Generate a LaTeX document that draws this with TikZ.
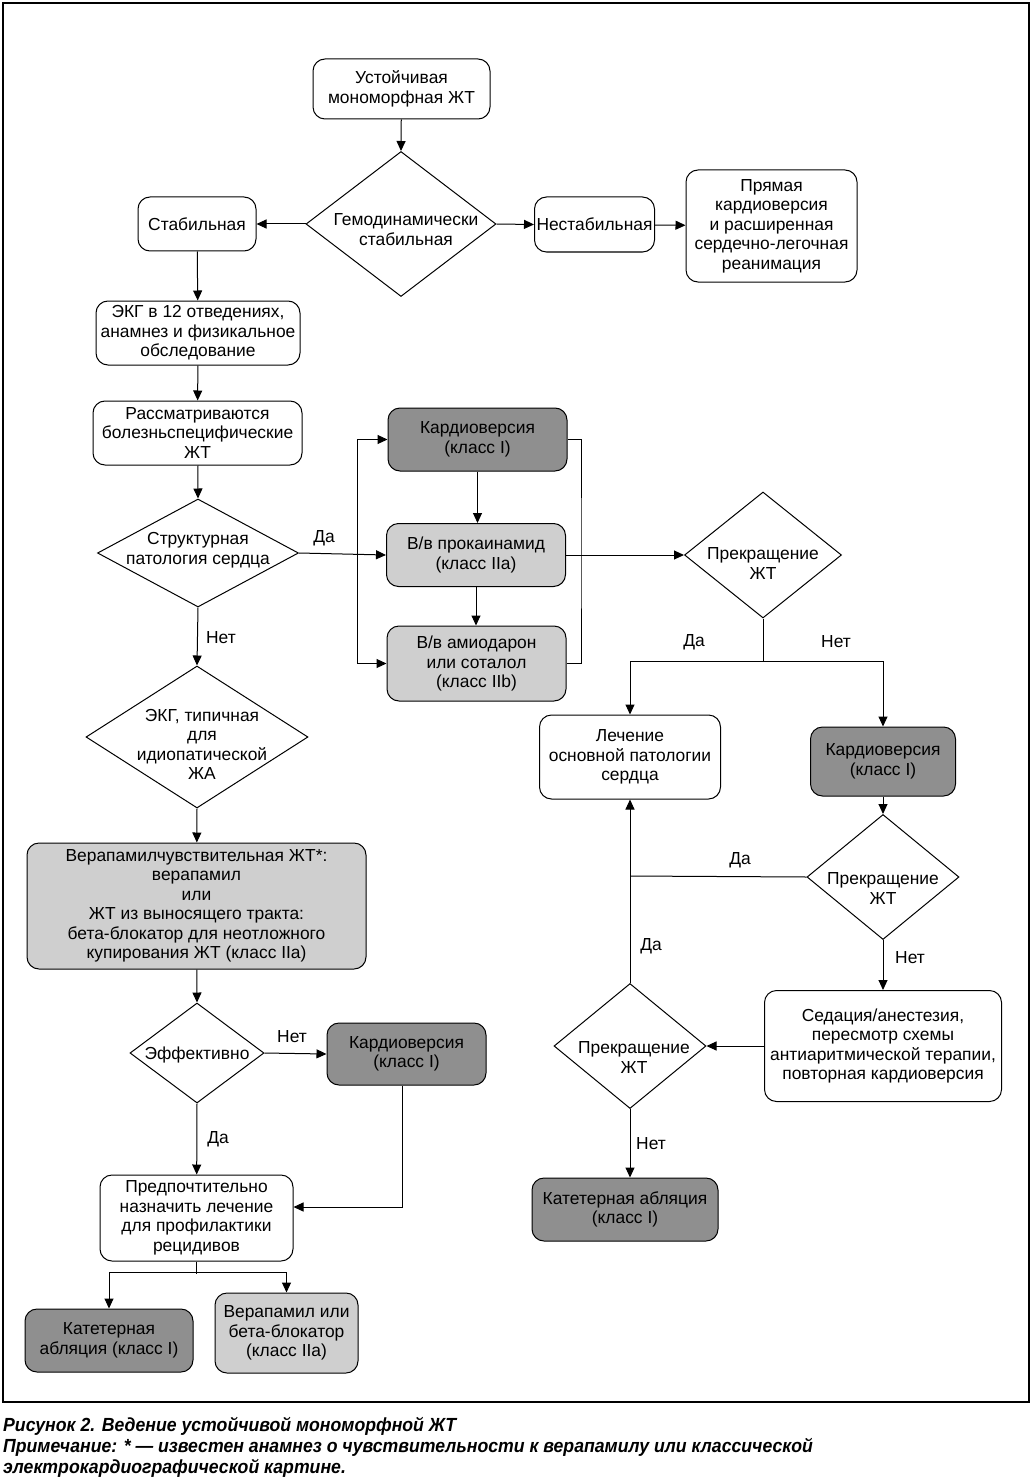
\documentclass[tikz,border=0pt]{standalone}
\usepackage{fontspec}
\setmainfont{Liberation Sans}
\newfontfamily\capfont[FakeStretch=0.93]{Liberation Sans}
\usetikzlibrary{arrows.meta}
\usetikzlibrary{shapes.geometric}
\usetikzlibrary{positioning}
\definecolor{darkbox}{gray}{0.56}
\definecolor{lightbox}{gray}{0.81}
\newcommand{\nodefont}{\fontsize{17.4}{19.5}\selectfont}
% text of a decision: #1 right shift, #2 raise, #3 lines
\newcommand{\dtext}[3]{\makebox[0pt]{\kern#1\smash{\raisebox{#2}{\begin{tabular}{@{}c@{}}#3\end{tabular}}}\kern-#1}}
\tikzstyle{block} = [rectangle, rounded corners=12pt, draw=black, line width=1pt, align=center, inner sep=2pt, font=\nodefont]
\tikzstyle{lightblock} = [block, fill=lightbox]
\tikzstyle{darkblock} = [block, fill=darkbox]
\tikzstyle{decision} = [diamond, draw=black, line width=1pt, inner sep=0pt, font=\nodefont]
\tikzstyle{arrow} = [line width=1pt, -{Triangle[length=10pt,width=9pt]}]
\tikzstyle{line} = [line width=1pt]
\tikzstyle{lbl} = [inner sep=0pt, font=\nodefont]
\tikzstyle{caption} = [inner sep=0pt, anchor=base west, font=\capfont\bfseries\itshape\fontsize{19}{21}\selectfont]

\begin{document}
\begin{tikzpicture}[x=1pt, y=-1pt]
\useasboundingbox (0,0) rectangle (1033,1479);
\draw[line width=1.3pt] (3,3) rectangle (1029,1402);

% top row
\node (start) [block, minimum width=177pt, minimum height=60pt] at (401.5,89) {Устойчивая\\мономорфная ЖТ};
\node (hemo) [decision, minimum width=190pt, minimum height=145pt] at (401,224) {\dtext{5pt}{-12pt}{Гемодинамически\\стабильная}};
\node (stable) [block, minimum width=118pt, minimum height=54pt] at (197,224) {Стабильная};
\node (unstable) [block, minimum width=117pt, minimum height=55pt] at (594.5,224.5) {Нестабильная};
\node (cpr) [block, minimum width=171pt, minimum height=112pt] at (771.5,226) {Прямая\\кардиоверсия\\и расширенная\\сердечно-легочная\\реанимация};

% left column
\node (ecg) [block, minimum width=204pt, minimum height=64pt] at (198,333) {ЭКГ в 12 отведениях,\\анамнез и физикальное\\обследование};
\node (disease) [block, minimum width=209pt, minimum height=64pt] at (197.5,433) {Рассматриваются\\болезньспецифические\\ЖТ};
\node (struct) [decision, minimum width=201pt, minimum height=108pt] at (198,553) {\dtext{0pt}{-2pt}{Структурная\\патология сердца}};
\node (ecgtyp) [decision, minimum width=222pt, minimum height=142pt] at (197,737) {\dtext{5pt}{-14pt}{ЭКГ, типичная\\для\\идиопатической\\ЖА}};
\node (verap) [lightblock, minimum width=339pt, minimum height=126pt] at (196.5,906) {Верапамилчувствительная ЖТ*:\\верапамил\\или\\ЖТ из выносящего тракта:\\бета-блокатор для неотложного\\купирования ЖТ (класс IIa)};
\node (eff) [decision, minimum width=134pt, minimum height=100pt] at (197,1053) {\dtext{0pt}{-7pt}{Эффективно}};
\node (cv3) [darkblock, minimum width=159pt, minimum height=62pt] at (406.5,1054) {Кардиоверсия\\(класс I)};
\node (prevent) [block, minimum width=193pt, minimum height=86pt] at (196.5,1218) {Предпочтительно\\назначить лечение\\для профилактики\\рецидивов};
\node (abl2) [darkblock, minimum width=168pt, minimum height=63pt] at (109,1340.5) {Катетерная\\абляция (класс I)};
\node (verbb) [lightblock, minimum width=143pt, minimum height=80pt] at (286.5,1333) {Верапамил или\\бета-блокатор\\(класс IIa)};

% middle column
\node (cv1) [darkblock, minimum width=179pt, minimum height=63pt] at (477.5,439.5) {Кардиоверсия\\(класс I)};
\node (proc) [lightblock, minimum width=179pt, minimum height=63pt] at (476,555) {В/в прокаинамид\\(класс IIa)};
\node (amio) [lightblock, minimum width=179pt, minimum height=75pt] at (476.5,663.5) {В/в амиодарон\\или соталол\\(класс IIb)};

% right column
\node (stop1) [decision, minimum width=157pt, minimum height=126pt] at (763,555) {\dtext{0pt}{-15pt}{Прекращение\\ЖТ}};
\node (treat) [block, minimum width=181pt, minimum height=84pt] at (630,757) {Лечение\\основной патологии\\сердца};
\node (cv2) [darkblock, minimum width=145pt, minimum height=69pt] at (883,761.5) {Кардиоверсия\\(класс I)};
\node (stop2) [decision, minimum width=152pt, minimum height=125pt] at (883,877) {\dtext{0pt}{-18pt}{Прекращение\\ЖТ}};
\node (sed) [block, minimum width=237pt, minimum height=111pt] at (883,1046) {Седация/анестезия,\\пересмотр схемы\\антиаритмической терапии,\\повторная кардиоверсия};
\node (stop3) [decision, minimum width=152pt, minimum height=125pt] at (630,1046) {\dtext{4pt}{-18pt}{Прекращение\\ЖТ}};
\node (abl1) [darkblock, minimum width=186pt, minimum height=63pt] at (625,1209.5) {Катетерная абляция\\(класс I)};

% branch points
\coordinate (busL) at (357,555);
\coordinate (busR) at (581,555);
\coordinate (split1) at (763,661);
\coordinate (join) at (630,876);
\coordinate (split2) at (196.5,1274);

% connectors
\draw[arrow] (start) -- (hemo.north);
\draw[arrow] (hemo.west) -- (stable.east);
\draw[arrow] (hemo.east) -- (unstable.west);
\draw[arrow] (unstable) -- (cpr);
\draw[arrow] (stable) -- (ecg);
\draw[arrow] (ecg) -- (disease);
\draw[arrow] (disease) -- (struct.north);
\draw[arrow] (struct.east) -- (proc.west);
\draw[arrow] (busL) |- (cv1.west);
\draw[arrow] (busL) |- (amio.west);
\draw[arrow] (cv1.south) -- (cv1.south |- proc.north);
\draw[arrow] (proc.south) -- (proc.south |- amio.north);
\draw[line] (cv1.east) -| (busR) |- (amio.east);
\draw[arrow] (proc.east) -- (stop1.west);
\draw[line] (stop1.south) -- (split1);
\draw[arrow] (split1) -| (treat.north);
\draw[arrow] (split1) -| (cv2.north);
\draw[arrow] (cv2) -- (stop2.north);
\draw[line] (stop2.west) -- (join);
\draw[arrow] (stop2.south) -- (sed.north);
\draw[arrow] (sed.west) -- (stop3.east);
\draw[arrow] (stop3.north) -- (treat.south);
\draw[arrow] (stop3.south) -- (stop3.south |- abl1.north);
\draw[arrow] (struct.south) -- (ecgtyp.north);
\draw[arrow] (ecgtyp.south) -- (verap);
\draw[arrow] (verap) -- (eff.north);
\draw[arrow] (eff.east) -- (cv3.west);
\draw[arrow] (eff.south) -- (prevent);
\draw[arrow] ([xshift=-4pt]cv3.south) |- ([yshift=11pt]prevent.east);
\draw[line] (prevent.south) -- (split2);
\draw[arrow] ([yshift=2pt]split2) -| (abl2.north);
\draw[arrow] ([yshift=2pt]split2) -| (verbb.north);

% labels
\node (l1) [lbl] at (324,538) {Да};
\node (l2) [lbl] at (221,638) {Нет};
\node (l3) [lbl] at (694,642) {Да};
\node (l4) [lbl] at (836,642) {Нет};
\node (l5) [lbl] at (740,860) {Да};
\node (l6) [lbl] at (910,958) {Нет};
\node (l7) [lbl] at (651,946) {Да};
\node (l8) [lbl] at (651,1144) {Нет};
\node (l9) [lbl] at (292,1037) {Нет};
\node (l10) [lbl] at (218,1139) {Да};

% caption
\node (cap1) [caption] at (3,1431) {Рисунок 2. Ведение устойчивой мономорфной ЖТ};
\node (cap2) [caption] at (3,1452) {Примечание: * — известен анамнез о чувствительности к верапамилу или классической};
\node (cap3) [caption] at (3,1473) {электрокардиографической картине.};
\end{tikzpicture}
\end{document}
